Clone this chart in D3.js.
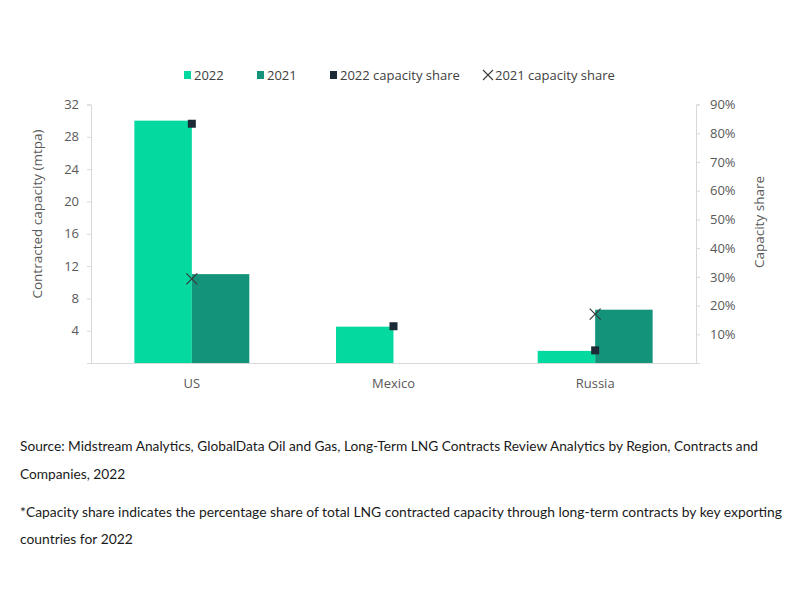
<!DOCTYPE html>
<html>
<head>
<meta charset="utf-8">
<script src="https://cdn.jsdelivr.net/npm/d3@7"></script>
<style>
  html, body { margin: 0; padding: 0; background: #fff; }
  svg { display: block; }
</style>
</head>
<body>
<svg id="chart" width="800" height="600"></svg>
<script>
// ---------- data ----------
const categories = ["US", "Mexico", "Russia"];
const seriesNames = ["2022", "2021"];
const capacity2022 = [30, 4.5, 1.5];      // mtpa
const capacity2021 = [11, 0, 6.6];        // mtpa
const share2022 = [0.833, 0.128, 0.044];  // capacity share
const share2021 = [0.293, null, 0.17];    // capacity share
const leftTicks = [4, 8, 12, 16, 20, 24, 28, 32];
const rightTicks = [0.1, 0.2, 0.3, 0.4, 0.5, 0.6, 0.7, 0.8, 0.9];
const legendLabels = ["2022", "2021", "2022 capacity share", "2021 capacity share"];
const sourceLines = [
  "Source: Midstream Analytics, GlobalData Oil and Gas, Long-Term LNG Contracts Review Analytics by Region, Contracts and",
  "Companies, 2022",
  "*Capacity share indicates the percentage share of total LNG contracted capacity through long-term contracts by key exporting",
  "countries for 2022"
];

// ---------- style / layout ----------
const colors = { "2022": "#04D9A0", "2021": "#13937A", sq: "#1B2A36", x: "#3a3a3a" };
const tickFont = "'Open Sans', 'Noto Sans', sans-serif";
const textFont = "Lato, 'Open Sans', sans-serif";
const plot = { left: 91, right: 696, top: 104.5, bottom: 363 };

const svg = d3.select("#chart");

const x0 = d3.scaleBand().domain(categories).range([plot.left, plot.right])
  .paddingInner(0.43).paddingOuter(0.215);
const x1 = d3.scaleBand().domain(seriesNames).range([0, x0.bandwidth()]);
const yL = d3.scaleLinear().domain([0, 32]).range([plot.bottom, plot.top]);
const yR = d3.scaleLinear().domain([0, 0.9]).range([plot.bottom, plot.top]);

const barData = [];
categories.forEach((c, i) => {
  barData.push({ cat: c, s: "2022", v: capacity2022[i] });
  barData.push({ cat: c, s: "2021", v: capacity2021[i] });
});

// bars
svg.append("g").selectAll("rect").data(barData.filter(d => d.v > 0)).join("rect")
  .attr("x", d => x0(d.cat) + x1(d.s))
  .attr("width", x1.bandwidth())
  .attr("y", d => yL(d.v))
  .attr("height", d => yL(0) - yL(d.v))
  .attr("fill", d => colors[d.s]);

// left axis
const axL = d3.axisLeft(yL).tickValues([0].concat(leftTicks)).tickSize(4).tickPadding(8)
  .tickFormat(d => d === 0 ? "" : d3.format("d")(d));
const gL = svg.append("g").attr("transform", `translate(${plot.left},0)`).call(axL);
gL.select(".domain").attr("stroke", "#d9d9d9");
gL.selectAll(".tick line").attr("stroke", "#d9d9d9");
gL.selectAll("text").attr("fill", "#595959").style("font-family", tickFont).style("font-size", "13px");

// right axis
const axR = d3.axisRight(yR).tickValues([0].concat(rightTicks)).tickSize(4).tickPadding(10)
  .tickFormat(d => d === 0 ? "" : d3.format(".0%")(d));
const gR = svg.append("g").attr("transform", `translate(${plot.right},0)`).call(axR);
gR.select(".domain").attr("stroke", "#d9d9d9");
gR.selectAll(".tick line").attr("stroke", "#d9d9d9");
gR.selectAll("text").attr("fill", "#595959").style("font-family", tickFont).style("font-size", "13px");

// baseline / category axis
const axB = d3.axisBottom(x0).tickSize(0).tickPadding(16);
const gB = svg.append("g").attr("transform", `translate(0,${plot.bottom})`).call(axB);
gB.select(".domain").attr("stroke", "#d9d9d9");
gB.selectAll("text").attr("fill", "#595959").style("font-family", tickFont).style("font-size", "13px");

// share markers
const cx = c => x0(c) + x0.bandwidth() / 2;
svg.append("g").selectAll("rect").data(categories.map((c, i) => ({ c, v: share2022[i] })).filter(d => d.v != null))
  .join("rect")
  .attr("x", d => cx(d.c) - 4).attr("y", d => yR(d.v) - 4)
  .attr("width", 8).attr("height", 8).attr("fill", colors.sq);

const xs = 5.5;
svg.append("g").selectAll("path").data(categories.map((c, i) => ({ c, v: share2021[i] })).filter(d => d.v != null))
  .join("path")
  .attr("d", d => {
    const px = cx(d.c), py = yR(d.v);
    return `M${px - xs},${py - xs}L${px + xs},${py + xs}M${px - xs},${py + xs}L${px + xs},${py - xs}`;
  })
  .attr("stroke", colors.x).attr("stroke-width", 1.2).attr("fill", "none");

// axis titles
svg.append("text").attr("transform", "translate(42,214) rotate(-90)")
  .attr("text-anchor", "middle").attr("fill", "#595959")
  .style("font-family", tickFont).style("font-size", "13.5px")
  .text("Contracted capacity (mtpa)");
svg.append("text").attr("transform", "translate(764,222) rotate(-90)")
  .attr("text-anchor", "middle").attr("fill", "#595959")
  .style("font-family", tickFont).style("font-size", "13.5px")
  .text("Capacity share");

// legend
const legendX = [184, 257, 330, 483];
const lg = svg.append("g").style("font-family", tickFont).style("font-size", "13px");
legendLabels.forEach((lab, i) => {
  const g = lg.append("g").attr("transform", `translate(${legendX[i]},75)`);
  if (i < 3) {
    g.append("rect").attr("x", 0).attr("y", -4).attr("width", 7).attr("height", 8)
      .attr("fill", i === 0 ? colors["2022"] : i === 1 ? colors["2021"] : colors.sq);
  } else {
    g.append("path").attr("d", "M0,-5L10,5M0,5L10,-5").attr("stroke", colors.x).attr("stroke-width", 1.1);
  }
  g.append("text").attr("x", i < 3 ? 10 : 12).attr("y", 0).attr("dy", "0.35em")
    .attr("fill", "#404040").text(lab);
});

// source notes
const srcY = [446, 474, 512, 539];
const srcEls = sourceLines.map((t, i) => svg.append("text").attr("x", 20).attr("y", srcY[i]).attr("dy", "0.35em")
  .attr("fill", "#1a1a1a").style("font-family", textFont).style("font-size", "14px").text(t));
const k1 = 738 / srcEls[0].node().getComputedTextLength();
const k3 = 762 / srcEls[2].node().getComputedTextLength();
srcEls.forEach((el, i) => {
  const k = i < 2 ? k1 : k3;
  el.attr("textLength", el.node().getComputedTextLength() * k).attr("lengthAdjust", "spacingAndGlyphs");
});
</script>
</body>
</html>
